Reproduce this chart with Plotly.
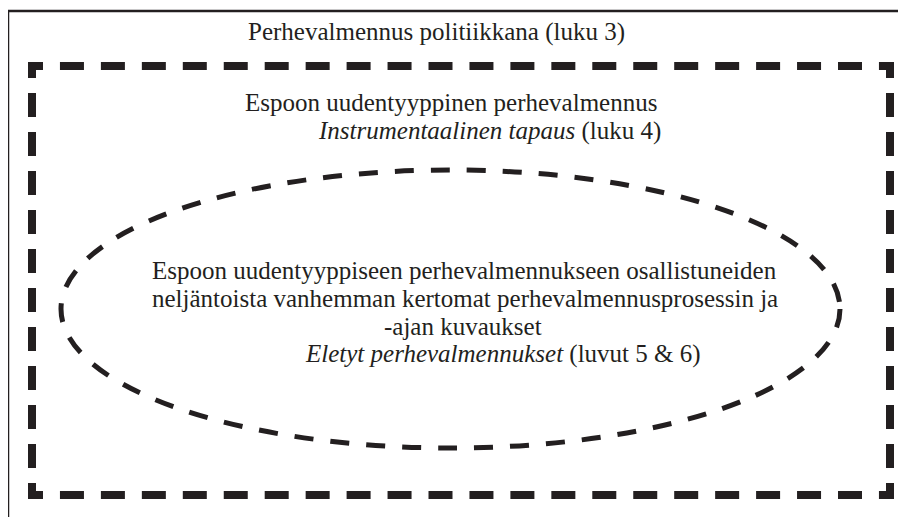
import plotly.graph_objects as go

# ---- content ----
outer_label = ["Perhevalmennus politiikkana (luku 3)"]
middle_labels = ["Espoon uudentyyppinen perhevalmennus",
                 "<i>Instrumentaalinen tapaus</i> (luku 4)"]
inner_labels = ["Espoon uudentyyppiseen perhevalmennukseen osallistuneiden",
                "neljäntoista vanhemman kertomat perhevalmennusprosessin ja",
                "-ajan kuvaukset",
                "<i>Eletyt perhevalmennukset</i> (luvut 5 & 6)"]

W, H = 906, 517
OFF = 8  # page body margin compensation
INK = "#231f20"
FONT = "Liberation Serif, DejaVu Serif, serif"
FS = 25

fig = go.Figure()
shapes = []

# outer solid frame (top and left visible)
shapes.append(dict(type="line", x0=8, y0=11, x1=W + 20, y1=11, line=dict(color=INK, width=2.5)))
shapes.append(dict(type="line", x0=8, y0=11, x1=8, y1=H + 20, line=dict(color=INK, width=2.5)))

# dashed rectangle, each side drawn from its corner
def dash_pattern(total, corner, dash, n):
    gap = (total - 2 * corner - n * dash) / (n + 1)
    parts = [corner]
    for _ in range(n):
        parts += [gap, dash]
    parts += [gap, corner, 1000]
    return ",".join(f"{p:.2f}px" for p in parts)

L, R, T, B = 28, 894, 62, 499
lw = 8
h_dash = dash_pattern(R - L, 15, 24, 20)
v_dash = dash_pattern(B - T, 16, 24, 10)
shapes.append(dict(type="line", x0=L, y0=T + lw / 2, x1=R, y1=T + lw / 2, line=dict(color=INK, width=lw, dash=h_dash)))
shapes.append(dict(type="line", x0=L, y0=B - lw / 2, x1=R, y1=B - lw / 2, line=dict(color=INK, width=lw, dash=h_dash)))
shapes.append(dict(type="line", x0=L + lw / 2, y0=T, x1=L + lw / 2, y1=B, line=dict(color=INK, width=lw, dash=v_dash)))
shapes.append(dict(type="line", x0=R - lw / 2, y0=T, x1=R - lw / 2, y1=B, line=dict(color=INK, width=lw, dash=v_dash)))

# dashed ellipse
shapes.append(dict(type="circle", x0=61, y0=170, x1=840, y1=448,
                   line=dict(color=INK, width=5, dash="19px,17px")))

ann = []
def add(text, x, y):
    ann.append(dict(text=text, x=x, y=y, xref="x", yref="y", xanchor="left", yanchor="middle",
                    showarrow=False, font=dict(family=FONT, size=FS, color=INK)))

add(outer_label[0], 246, 32)
add(middle_labels[0], 243, 102)
add(middle_labels[1], 316, 131)
add(inner_labels[0], 150, 270)
add(inner_labels[1], 150, 298)
add(inner_labels[2], 382, 326)
add(inner_labels[3], 303, 354)

fig.update_layout(
    width=W, height=H, margin=dict(l=0, r=0, t=0, b=0),
    paper_bgcolor="white", plot_bgcolor="white",
    xaxis=dict(range=[OFF, W + OFF], visible=False, fixedrange=True),
    yaxis=dict(range=[H + OFF, OFF], visible=False, fixedrange=True),
    shapes=shapes, annotations=ann, showlegend=False,
)
fig.write_html("out.html")
